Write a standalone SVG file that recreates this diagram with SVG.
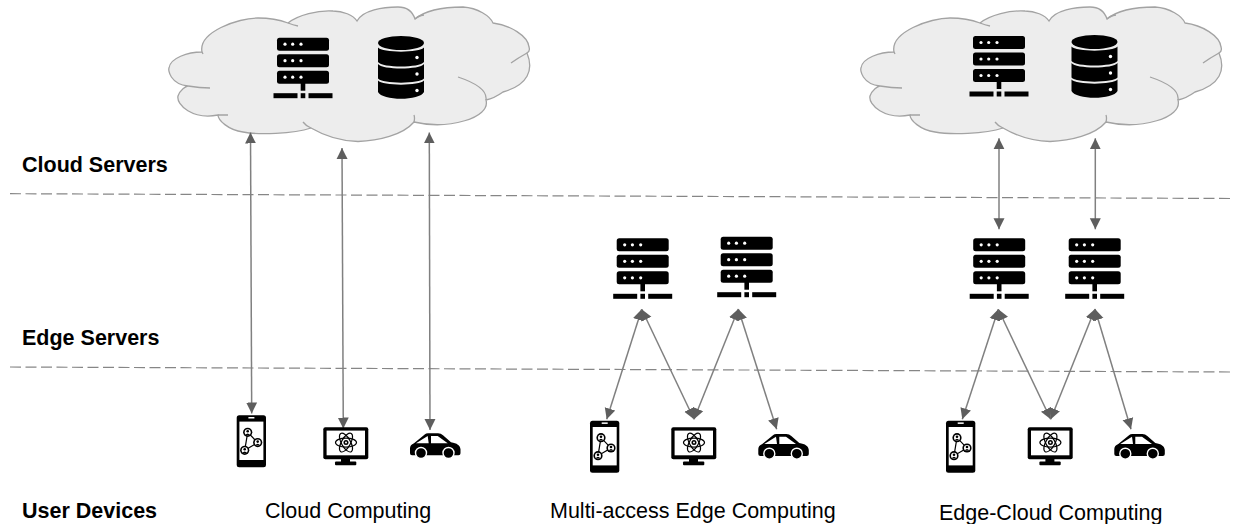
<svg xmlns="http://www.w3.org/2000/svg" width="1233" height="524" viewBox="0 0 1233 524">
<style>
text{font-family:"Liberation Sans",Arial,sans-serif;fill:#000}
.lbl{font-size:21.5px;font-weight:bold}
.cap{font-size:21.5px}
.sep{fill:none;stroke:#868686;stroke-width:1.2;stroke-dasharray:11 4.500}
.c{fill:none;stroke:#808080;stroke-width:1.500;marker-start:url(#a);marker-end:url(#a)}
.cl{fill:#ededed;stroke:#a3a3a3;stroke-width:1.300}
.clh{fill:none;stroke:#a3a3a3;stroke-width:1.300}
</style>
<defs>
<marker id="a" markerUnits="userSpaceOnUse" markerWidth="13" markerHeight="13" refX="11" refY="6" orient="auto-start-reverse"><path d="M0 0.500L11 6L0 11.500Z" fill="#5e5e5e"/></marker>
<symbol id="cloud" overflow="visible">
<path class="cl" d="M44 52C40 32 80 18 100 18C112 18 122 20 130 23C140 15 160 10 175 11C185 11 195 15 199 21C205 10 225 7 240 7C248 7 254 10 257 19C270 8 290 7 305 7C320 8 332 16 335 23C352 25 370 36 371 47C372 50 371 52 369 53C376 70 370 85 345 92C338 97 333 99 328 100C333 118 290 130 256 122C245 135 220 141 200 141.500C180 141 165 135 153 128C135 134 100 135 85 132C70 130 60 120 60 115C35 120 18 105 20 96C22 90 28 86 30 86C12 84 10 70 11 68C12 58 30 52 44 52Z"/>
<path class="clh" d="M30 86Q42 88 52 88M60 115Q65 115 70 115M256 122Q257 118 256 115M328 100Q330 87 300 77M369 53Q360 58 353 63M153 128Q148 126 145 122M257 19Q260 16 266 15M130 23Q135 25 140 26M44 52L45 54"/>
</symbol>
<symbol id="server" overflow="visible">
<rect x="-26" y="0" width="52" height="13" rx="2.500"/><rect x="-26" y="16.500" width="52" height="13" rx="2.500"/><rect x="-26" y="33" width="52" height="13" rx="2.500"/>
<rect x="-2.300" y="45" width="4.600" height="8"/><rect x="-29.500" y="55.500" width="24" height="5"/><rect x="-2.300" y="55.500" width="4.600" height="5"/><rect x="5.500" y="55.500" width="24" height="5"/>
<g fill="#fff"><circle cx="-18" cy="6.500" r="1.600"/><circle cx="-10.300" cy="6.500" r="1.600"/><circle cx="-2" cy="6.500" r="1.600"/><circle cx="-18" cy="23" r="1.600"/><circle cx="-10.300" cy="23" r="1.600"/><circle cx="-2" cy="23" r="1.600"/><circle cx="-18" cy="39.500" r="1.600"/><circle cx="-10.300" cy="39.500" r="1.600"/><circle cx="-2" cy="39.500" r="1.600"/></g>
</symbol>
<symbol id="db" overflow="visible">
<ellipse cx="0" cy="7" rx="23" ry="7"/>
<path d="M-23 11.500C-19 17 19 17 23 11.500V26C19 32 -19 32 -23 26Z"/>
<path d="M-23 28C-19 34 19 34 23 28V42.500C19 48 -19 48 -23 42.500Z"/>
<path d="M-23 44.500C-19 50 19 50 23 44.500V56C19 65 -19 65 -23 56Z"/>
<g fill="#fff"><circle cx="16" cy="21.500" r="1.700"/><circle cx="16" cy="38" r="1.700"/><circle cx="16" cy="54.500" r="1.700"/></g>
</symbol>
<symbol id="phone" overflow="visible">
<rect x="0" y="0" width="29.300" height="52" rx="2.500"/><rect x="2.700" y="6.300" width="24" height="38.400" fill="#fff"/><rect x="11.700" y="1.700" width="6" height="1.500" fill="#fff"/>
<path d="M11 17L8 35L21 27.300Z" stroke="#000" stroke-width="1.200" fill="none"/>
<g id="p"><circle cx="11" cy="17" r="4.600"/><circle cx="11" cy="17" r="3" fill="#fff"/><circle cx="11" cy="16" r="1.300"/><path d="M8.500 19.700Q11 16.500 13.500 19.700Z"/></g>
<use href="#p" x="10" y="10.300"/><use href="#p" x="-3" y="18"/>
</symbol>
<symbol id="monitor" overflow="visible">
<rect x="0" y="0" width="45" height="32" rx="2"/><rect x="3.300" y="3.300" width="38.400" height="24.700" fill="#fff"/><rect x="17.700" y="31" width="9" height="4"/><rect x="11.700" y="34.300" width="21.300" height="3.700" rx="1"/>
<g fill="none" stroke="#000" stroke-width="1.200"><ellipse cx="22.700" cy="15.300" rx="10.500" ry="4.500"/><ellipse cx="22.700" cy="15.300" rx="10.500" ry="4.500" transform="rotate(60 22.700 15.300)"/><ellipse cx="22.700" cy="15.300" rx="10.500" ry="4.500" transform="rotate(120 22.700 15.300)"/></g><circle cx="22.700" cy="15.300" r="2.500"/><circle cx="22.700" cy="15.300" r="1" fill="#fff"/>
</symbol>
<symbol id="car" overflow="visible">
<path d="M0 15Q0 11.500 4 10L15 1Q16 0 18 0H28Q31 0 33 2L41 9C47 10 50 12 50.500 16V20Q50.500 22 48.500 22H2Q0 22 0 20Z"/>
<path d="M6 10L17.700 2.700L18.700 10ZM21 2.700H27.700L37.700 10H21Z" fill="#fff"/>
<circle cx="11" cy="19.700" r="5.500" stroke="#fff" stroke-width="1.400"/><circle cx="38.500" cy="19.700" r="5.500" stroke="#fff" stroke-width="1.400"/>
</symbol>
</defs>
<g id="clouds">
<g id="cloud-1"><use href="#cloud" x="158"/></g>
<g id="cloud-2"><use href="#cloud" x="850"/></g>
</g>
<g id="separators"><path class="sep" d="M10 193.700L1233 198.500"/><path class="sep" d="M10 367L1233 372"/></g>
<g id="connectors">
<path class="c" d="M250.500 132.500L251.700 413.500"/><path class="c" d="M342 148L343.300 428.500"/><path class="c" d="M429.300 132.500L430 430"/>
<path class="c" d="M641.700 309.300L606.700 419.300"/><path class="c" d="M641.700 309.300L694 419.300"/><path class="c" d="M738.300 309L694 419.300"/><path class="c" d="M738.300 309L776.700 429.300"/>
<path class="c" d="M999 138.300V229.300"/><path class="c" d="M1095.300 138.300V229.300"/>
<path class="c" d="M998.300 309.300L962.300 419.300"/><path class="c" d="M998.300 309.300L1050.700 419.300"/><path class="c" d="M1095 309L1050.700 419.300"/><path class="c" d="M1095 309L1131 429.300"/>
</g>
<g id="cloud-server"><use href="#server" x="303" y="37.700"/></g>
<g id="cloud-db"><use href="#db" x="401" y="36"/></g>
<g id="cloud2-server"><use href="#server" x="999" y="36"/></g>
<g id="cloud2-db"><use href="#db" x="1094.500" y="35"/></g>
<g id="mec-server-1"><use href="#server" x="642.700" y="238.300"/></g>
<g id="mec-server-2"><use href="#server" x="746.700" y="236.700"/></g>
<g id="ecc-server-1"><use href="#server" x="999.200" y="238.300"/></g>
<g id="ecc-server-2"><use href="#server" x="1094.700" y="238.300"/></g>
<g id="cc-phone"><use href="#phone" x="236.700" y="415.300"/></g>
<g id="cc-monitor"><use href="#monitor" x="323.300" y="427.300"/></g>
<g id="cc-car"><use href="#car" x="410" y="433.300"/></g>
<g id="mec-phone"><use href="#phone" x="590" y="420.700"/></g>
<g id="mec-monitor"><use href="#monitor" x="671.300" y="427.300"/></g>
<g id="mec-car"><use href="#car" x="758.300" y="434"/></g>
<g id="ecc-phone"><use href="#phone" x="946" y="420.700"/></g>
<g id="ecc-monitor"><use href="#monitor" x="1027.700" y="427.300"/></g>
<g id="ecc-car"><use href="#car" x="1114.300" y="434"/></g>
<g id="labels">
<text class="lbl" x="22" y="171.500">Cloud Servers</text>
<text class="lbl" x="22" y="344.500">Edge Servers</text>
<text class="lbl" x="22" y="518">User Devices</text>
<text class="cap" x="265" y="518">Cloud Computing</text>
<text class="cap" x="550" y="518">Multi-access Edge Computing</text>
<text class="cap" x="939" y="520">Edge-Cloud Computing</text>
</g>
</svg>
